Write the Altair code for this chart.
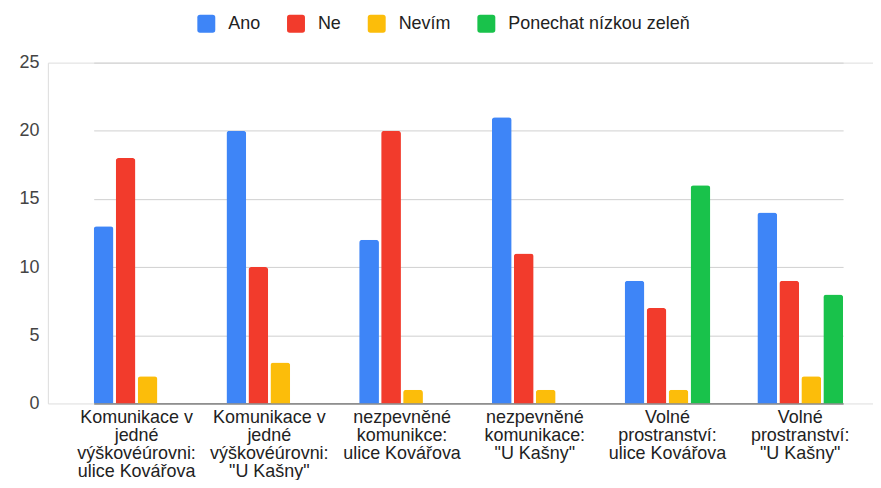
import altair as alt
import pandas as pd

categories = [
    "Komunikace v\njedné\nvýškovéúrovni:\nulice Kovářova",
    "Komunikace v\njedné\nvýškovéúrovni:\n\"U Kašny\"",
    "nezpevněné\nkomunikce:\nulice Kovářova",
    "nezpevněné\nkomunikace:\n\"U Kašny\"",
    "Volné\nprostranství:\nulice Kovářova",
    "Volné\nprostranství:\n\"U Kašny\"",
]
series = ["Ano", "Ne", "Nevím", "Ponechat nízkou zeleň"]
ano = [13, 20, 12, 21, 9, 14]
ne = [18, 10, 20, 11, 7, 9]
nevim = [2, 3, 1, 1, 1, 2]
ponechat = [0, 0, 0, 0, 16, 8]
colors = ["#3E85F7", "#F23B2C", "#FCBD0A", "#19C24B"]
y_ticks = [0, 5, 10, 15, 20, 25]

rows = []
for i, c in enumerate(categories):
    for s, vals in zip(series, [ano, ne, nevim, ponechat]):
        rows.append({"cat": c, "series": s, "value": vals[i]})
df = pd.DataFrame(rows)

rounded = ("M -1 -0.7 Q -1 -1 -0.7 -1 L 0.7 -1 Q 1 -1 1 -0.7 L 1 0.7 "
           "Q 1 1 0.7 1 L -0.7 1 Q -1 1 -1 0.7 Z")

FONT = "Liberation Sans"

chart = alt.Chart(df).transform_filter("datum.value > 0").mark_bar(
    cornerRadiusTopLeft=3, cornerRadiusTopRight=3
).encode(
    x=alt.X(
        "cat:N",
        sort=categories,
        scale=alt.Scale(range=[46, 798], paddingInner=0.354, paddingOuter=0),
        axis=alt.Axis(
            title=None,
            labelAngle=0,
            labelExpr="split(datum.label, '\\n')",
            labelFontSize=18,
            labelColor="#222222",
            labelPadding=5,
            labelLineHeight=18,
            ticks=False,
            domain=False,
            labelLimit=400,
            labelOverlap=False,
            labelFont=FONT,
        ),
    ),
    xOffset=alt.XOffset(
        "series:N",
        sort=series,
        scale=alt.Scale(domain=series, paddingInner=0.1, paddingOuter=0),
    ),
    y=alt.Y(
        "value:Q",
        scale=alt.Scale(domain=[0, 25]),
        axis=alt.Axis(
            title=None,
            values=y_ticks,
            labelFontSize=18,
            labelColor="#444444",
            labelPadding=9,
            ticks=False,
            domain=False,
            grid=True,
            gridColor={"condition": {"test": "datum.value === 0", "value": "#444444"},
                       "value": "#d0d0d0"},
            labelFont=FONT,
        ),
    ),
    color=alt.Color(
        "series:N",
        sort=series,
        scale=alt.Scale(domain=series, range=colors),
        legend=alt.Legend(
            title=None,
            orient="none",
            legendX=150,
            legendY=-48,
            direction="horizontal",
            symbolType=rounded,
            symbolSize=324,
            symbolStrokeWidth=0,
            labelFontSize=18,
            labelColor="#222222",
            labelOffset=13,
            labelLimit=400,
            columnPadding=26,
            padding=0,
            labelFont=FONT,
        ),
    ),
).properties(
    width=828,
    height=342,
    padding={"left": 40, "top": 54, "right": 0, "bottom": 76},
    autosize="none",
    background="white",
).configure_view(stroke=None).configure(font=FONT)

chart.save("out.html", embed_options={"renderer": "svg", "actions": False})
